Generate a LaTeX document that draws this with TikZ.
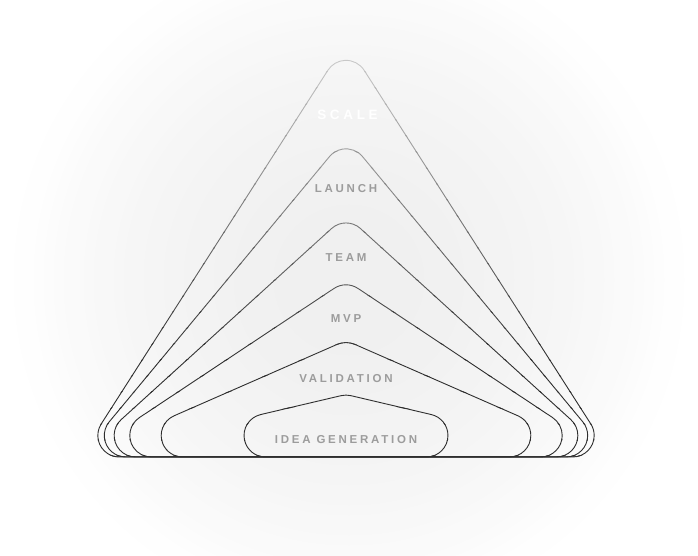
\documentclass[tikz,border=0pt]{standalone}
\usepackage{fontspec}
\usepackage{xcolor}
\usetikzlibrary{calc}

\newfontfamily\stagefont[LetterSpace=24]{Liberation Sans}
\newfontfamily\peakfont[LetterSpace=27]{Liberation Sans}

\definecolor{edgedark}{HTML}{2E2E2E}
\definecolor{haze}{HTML}{F1F1F1}
\definecolor{stagegray}{HTML}{9C9C9C}

% one stage: rounded triangle on the common base, #1 = apex height
\newcommand{\stageshape}[1]{%
  \pgfmathsetmacro\sideang{atan(#1/266)}
  \pgfmathsetmacro\basecut{21.5/tan(\sideang/2)}
  \pgfmathsetmacro\topcut{21.5*tan(\sideang)}
  \draw ($(80,98)+(\basecut,0)$) -- ($(612,98)-(\basecut,0)$)
    arc[start angle=-90, end angle=90-\sideang, radius=21.5]
    -- ($(346,98+#1)+(-\sideang:\topcut)$)
    arc[start angle=90-\sideang, end angle=90+\sideang, radius=21.5]
    -- ($(80,98)+(\sideang:\basecut)$)
    arc[start angle=90+\sideang, end angle=270, radius=21.5] -- cycle;
}

\begin{document}
\begin{tikzpicture}[x=1pt, y=1pt,
    stage/.style={font=\stagefont\bfseries\fontsize{11.5}{12}\selectfont, text=stagegray, inner sep=0pt},
    peak/.style={font=\peakfont\bfseries\fontsize{13.5}{14}\selectfont, text=white, inner sep=0pt}]
  \useasboundingbox (0,0) rectangle (698,555);
  \fill[white] (0,0) rectangle (698,555);

  % soft glow behind the stages
  \begin{scope}
    \clip (0,0) rectangle (698,555);
    \foreach \r in {335,325,...,5}{
      \pgfmathsetmacro\glowpct{6*(1-(\r/340)^2)}
      \fill[black!\glowpct] (349,275) circle (\r);
    }
  \end{scope}

  % outlines, lighter towards the top
  \foreach \k in {0,...,27}{
    \pgfmathsetmacro\bandtop{515-16*\k}
    \pgfmathtruncatemacro\bandpct{min(100,max(15,20+(48+16*\k-60)*0.2667))}
    \begin{scope}[color=edgedark!\bandpct!haze, line width=0.9pt]
      \clip (0,\bandtop-16.5) rectangle (698,\bandtop+0.5);
      \foreach \h in {415,320.3,241.6,176.5,116.5,62.5}{\stageshape{\h}}
    \end{scope}
  }

  % stage labels
  \node[peak] (scale) at (347.5,440) {SCALE};
  \node[stage] (launch) at (346,366) {LAUNCH};
  \node[stage] (team) at (346,297) {TEAM};
  \node[stage] (mvp) at (346,236) {MVP};
  \node[stage] (validation) at (346,176) {VALIDATION};
  \node[stage] (idea) at (346,115.5) {IDEA GENERATION};
\end{tikzpicture}
\end{document}
